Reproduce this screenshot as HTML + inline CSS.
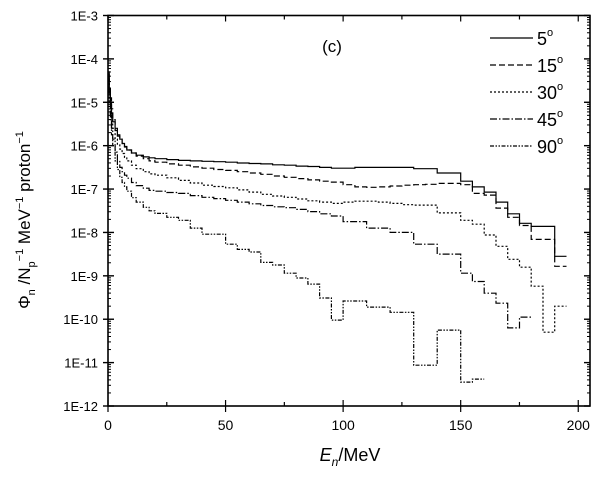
<!DOCTYPE html>
<html><head><meta charset="utf-8"><style>
html,body{margin:0;padding:0;background:#fff;}
svg{display:block;font-family:"Liberation Sans",sans-serif;}
</style></head><body>
<svg id="chart" width="600" height="477" viewBox="0 0 600 477" xmlns="http://www.w3.org/2000/svg">
<g id="axes"></g>
<g id="series"></g>
<g id="legend"></g>
<text x="332" y="52" font-size="17" text-anchor="middle">(c)</text>
<text x="350" y="461" font-size="18" text-anchor="middle"><tspan font-style="italic">E</tspan><tspan font-style="italic" font-size="12" dy="5">n</tspan><tspan dy="-5">/MeV</tspan></text>
<text transform="translate(30,220) rotate(-90)" font-size="17" text-anchor="middle">Φ<tspan font-size="11" dy="5">n</tspan><tspan dy="-5"> /N</tspan><tspan font-size="11" dy="5">p</tspan><tspan font-size="11" dy="-12">−1</tspan><tspan dy="7"> MeV</tspan><tspan font-size="11" dy="-7">−1</tspan><tspan dy="7"> proton</tspan><tspan font-size="11" dy="-7">−1</tspan></text>
</svg>
<script>
// Bin edges (MeV)
const binEdges = [0,0.5,1,1.5,2,3,4,5,6,7,8,10,12,15,17.5,20,25,30,35,40,45,50,55,60,65,70,75,80,85,90,95,100,105,110,115,120,125,130,135,140,145,150,155,160,165,170,175,180,185,190,195,200];
// log10 flux per bin
const log5deg = [-4.35,-4.7,-5.0,-5.25,-5.45,-5.65,-5.78,-5.85,-5.95,-6.02,-6.1,-6.17,-6.22,-6.26,-6.28,
 -6.3,-6.32,-6.34,-6.35,-6.36,-6.37,-6.38,-6.4,-6.41,-6.42,-6.44,-6.45,-6.47,-6.48,-6.5,-6.52,-6.52,-6.5,-6.5,-6.5,-6.5,-6.5,-6.53,-6.53,-6.63,-6.63,-6.82,-6.95,-7.07,-7.3,-7.57,-7.79,-7.86,-7.86,-8.55,null];
const log15deg = [-4.3,-4.6,-4.9,-5.15,-5.4,-5.6,-5.75,-5.85,-5.95,-6.03,-6.1,-6.17,-6.24,-6.3,-6.35,
 -6.38,-6.42,-6.45,-6.49,-6.52,-6.55,-6.57,-6.6,-6.63,-6.66,-6.7,-6.73,-6.76,-6.79,-6.82,-6.84,-6.9,-6.95,-6.96,-6.95,-6.93,-6.91,-6.9,-6.89,-6.87,-6.87,-6.9,-7.1,-7.14,-7.44,-7.65,-7.84,-8.16,-8.16,-8.78,null];
const log30deg = [-4.4,-4.8,-5.15,-5.4,-5.6,-5.85,-5.98,-6.08,-6.18,-6.27,-6.35,-6.45,-6.53,-6.6,-6.65,
 -6.68,-6.74,-6.8,-6.86,-6.91,-6.94,-6.97,-7.02,-7.07,-7.12,-7.16,-7.19,-7.23,-7.27,-7.3,-7.33,-7.3,-7.28,-7.28,-7.3,-7.33,-7.36,-7.37,-7.37,-7.55,-7.55,-7.72,-7.81,-8.06,-8.32,-8.62,-8.8,-9.24,-10.3,-9.7,null];
const log45deg = [-4.4,-4.9,-5.3,-5.6,-5.85,-6.15,-6.35,-6.5,-6.6,-6.68,-6.75,-6.85,-6.92,-6.98,-7.03,
 -7.05,-7.08,-7.1,-7.15,-7.19,-7.22,-7.26,-7.3,-7.34,-7.38,-7.41,-7.43,-7.47,-7.52,-7.57,-7.62,-7.75,-7.75,-7.9,-7.9,-8.0,-8.0,-8.27,-8.27,-8.5,-8.5,-8.94,-9.13,-9.4,-9.63,-10.2,-9.95,null,null,null,null];
const log90deg = [-4.45,-5.0,-5.4,-5.75,-6.0,-6.35,-6.55,-6.73,-6.85,-6.95,-7.05,-7.2,-7.3,-7.42,-7.5,
 -7.56,-7.65,-7.72,-7.9,-8.04,-8.04,-8.27,-8.39,-8.45,-8.69,-8.75,-8.94,-9.05,-9.19,-9.51,-10.02,-9.58,-9.58,-9.72,-9.72,-9.84,-9.84,-11.06,-11.06,-10.25,-10.25,-11.45,-11.38,null,null,null,null,null,null,null,null];
const seriesLabels = ["5","15","30","45","90"];
const xTicks = [0,50,100,150,200];
const yTickExps = [-3,-4,-5,-6,-7,-8,-9,-10,-11,-12];

const NS="http://www.w3.org/2000/svg";
const L=108,R=590,T=15.5,B=406;
const xMin=0,xMax=205,yMinExp=-12,yMaxExp=-3;
const X=v=>L+(v-xMin)/(xMax-xMin)*(R-L);
const Y=e=>T+(yMaxExp-e)/(yMaxExp-yMinExp)*(B-T);
function mk(tag,attrs,parent){const el=document.createElementNS(NS,tag);for(const k in attrs)el.setAttribute(k,attrs[k]);parent.appendChild(el);return el;}

const axes=document.getElementById('axes');
const frame=mk('rect',{x:L,y:T,width:R-L,height:B-T,fill:'none',stroke:'#000','stroke-width':1.6},axes);


// x ticks
for(let v=0;v<=200;v+=25){
  const major=v%50===0;const len=major?6:4;
  const t1=mk('line',{x1:X(v),x2:X(v),y1:B,y2:B+ (major?6:0),stroke:'#000','stroke-width':1.2},axes);
  
  
  const t2=mk('line',{x1:X(v),x2:X(v),y1:B,y2:B-len,stroke:'#000','stroke-width':1.2},axes);
  
  
  const t3=mk('line',{x1:X(v),x2:X(v),y1:T,y2:T+len,stroke:'#000','stroke-width':1.2},axes);
  
  
}
xTicks.forEach(v=>{
  const t=mk('text',{x:X(v),y:B+24,'font-size':14,'text-anchor':'middle'},axes);t.textContent=v;
  
  
});
// y ticks
for(let e=yMinExp;e<yMaxExp;e++){
  for(let m=2;m<=9;m++){
    const y=Y(e+Math.log10(m));
    const a=mk('line',{x1:L,x2:L+3,y1:y,y2:y,stroke:'#000','stroke-width':1},axes);
    
    
    const b=mk('line',{x1:R,x2:R-3,y1:y,y2:y,stroke:'#000','stroke-width':1},axes);
    
    
  }
}
yTickExps.forEach(e=>{
  const y=Y(e);
  const a=mk('line',{x1:L-5,x2:L+6,y1:y,y2:y,stroke:'#000','stroke-width':1.4},axes);
  
  
  const b=mk('line',{x1:R,x2:R-6,y1:y,y2:y,stroke:'#000','stroke-width':1.4},axes);
  
  
  const t=mk('text',{x:L-10,y:y+5,'font-size':13,'text-anchor':'end'},axes);t.textContent='1E'+e;
  
  
});

const dashes=['','6,3','2,2','7,2,1.5,2','4,1.5,1.5,1.5,1.5,1.5'];
const allSeries=[log5deg,log15deg,log30deg,log45deg,log90deg];
const sg=document.getElementById('series');
allSeries.forEach((vals,si)=>{
  let d='',pen=false;
  vals.forEach((v,i)=>{
    if(v===null){pen=false;return;}
    const x0=X(binEdges[i]),x1=X(binEdges[i+1]),y=Y(v);
    d+=(pen?'L':'M')+x0.toFixed(1)+' '+y.toFixed(1)+'L'+x1.toFixed(1)+' '+y.toFixed(1);
    pen=true;
  });
  const p=mk('path',{d:d,fill:'none',stroke:'#000','stroke-width':1.2},sg);
  if(dashes[si])p.setAttribute('stroke-dasharray',dashes[si]);
  
  
});

const lg=document.getElementById('legend');
seriesLabels.forEach((s,i)=>{
  const y=38+i*27;
  const g=mk('g',{},lg);
  
  
  const ln=mk('line',{x1:490,x2:533,y1:y,y2:y,stroke:'#000','stroke-width':1.2},g);
  if(dashes[i])ln.setAttribute('stroke-dasharray',dashes[i]);
  const t=mk('text',{x:537,y:y+7,'font-size':18},g);
  t.innerHTML=s+'<tspan font-size="11" dy="-9">o</tspan>';
});
</script>
</body></html>
